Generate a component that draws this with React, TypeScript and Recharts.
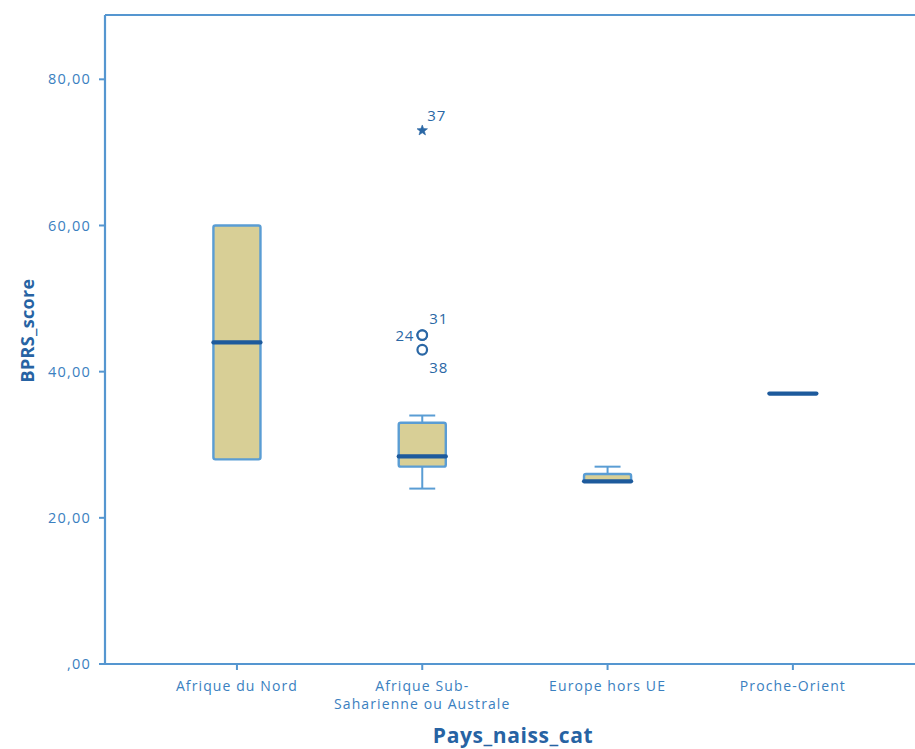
import React from 'react';
import { ComposedChart, XAxis, YAxis, ReferenceArea, ReferenceLine, Scatter, Label } from 'recharts';

// ---- data ----
const categories = ['Afrique du Nord', 'Afrique Sub-Saharienne ou Australe', 'Europe hors UE', 'Proche-Orient'];
const categoryTickLines = [['Afrique du Nord'], ['Afrique Sub-', 'Saharienne ou Australe'], ['Europe hors UE'], ['Proche-Orient']];
const minValues = [28, 24, 25, 37];
const q1Values = [28, 27, 25, 37];
const medianValues = [44, 28.4, 25, 37];
const q3Values = [60, 33, 26, 37];
const maxValues = [60, 34, 27, 37];

const outlierCategory = [1, 1, 1, 1];
const outlierValues = [73, 45, 45, 43];
const outlierCases = ['37', '31', '24', '38'];
const outlierKinds = ['extreme', 'outlier', 'outlier', 'outlier'];

const yTicks = [0, 20, 40, 60, 80];
const xTicks = [0, 1, 2, 3];

// ---- style ----
const Y_MAX = 88.8;
const X_DOMAIN: [number, number] = [-0.712, 3.659];
const BOX_HALF = 0.127;
const CAP_HALF = 0.07;
const FONT = '"Open Sans", "DejaVu Sans", sans-serif';
const AXIS = '#5596d0';
const TICK_TEXT = '#3a80c0';
const TITLE = '#2763a3';
const BOX_FILL = '#d8cf96';
const BOX_STROKE = '#5a9dd4';
const MEDIAN = '#1d5a9c';
const OUTLIER = '#2a67a5';

const caseLabelPlacement: Record<string, { dx: number; dy: number; anchor: string }> = {
  '37': { dx: 5, dy: -15, anchor: 'start' },
  '31': { dx: 7, dy: -17, anchor: 'start' },
  '24': { dx: -8, dy: 0, anchor: 'end' },
  '38': { dx: 7, dy: 17, anchor: 'start' },
};

const outlierData = outlierValues.map((v, i) => ({
  x: outlierCategory[i],
  y: v,
  caseId: outlierCases[i],
  kind: outlierKinds[i],
}));

const starPath = (cx: number, cy: number, r: number) => {
  const pts: string[] = [];
  for (let k = 0; k < 10; k++) {
    const rad = k % 2 === 0 ? r : r * 0.42;
    const a = -Math.PI / 2 + (k * Math.PI) / 5;
    pts.push(`${cx + rad * Math.cos(a)},${cy + rad * Math.sin(a)}`);
  }
  return `M${pts.join('L')}Z`;
};

const OutlierShape = (props: any) => {
  const { cx, cy, payload } = props;
  const place = caseLabelPlacement[payload.caseId] || { dx: 6, dy: -14, anchor: 'start' };
  return (
    <g>
      {payload.kind === 'extreme' ? (
        <path d={starPath(cx, cy, 5.5)} fill={OUTLIER} stroke={OUTLIER} strokeWidth={0.6} />
      ) : (
        <circle cx={cx} cy={cy} r={4.8} fill="#fff" stroke={OUTLIER} strokeWidth={2.2} />
      )}
      <text
        x={cx + place.dx}
        y={cy + place.dy}
        textAnchor={place.anchor as any}
        dominantBaseline="central"
        fontFamily={FONT}
        fontSize={15}
        letterSpacing={0.8}
        fill={OUTLIER}
      >
        {payload.caseId}
      </text>
    </g>
  );
};

const XTick = (props: any) => {
  const { x, y, payload } = props;
  const lines = categoryTickLines[payload.value] || [categories[payload.value]];
  return (
    <g>
      {lines.map((ln, k) => (
        <text
          key={k}
          x={x}
          y={y + 19 + k * 18}
          textAnchor="middle"
          fontFamily={FONT}
          fontSize={14}
          letterSpacing={1.1}
          fill={TICK_TEXT}
        >
          {ln}
        </text>
      ))}
    </g>
  );
};

const fmtY = (v: number) => (v === 0 ? ',00' : `${v},00`);

export default function App() {
  return (
    <div style={{ position: 'absolute', left: 0, top: 0, width: 915, height: 749, background: '#fff' }}>
      <ComposedChart width={915} height={749} margin={{ top: 15, right: 0, bottom: 0, left: 0 }}>
        <XAxis
          type="number"
          dataKey="x"
          domain={X_DOMAIN}
          ticks={xTicks}
          allowDataOverflow
          height={85}
          axisLine={{ stroke: AXIS, strokeWidth: 2.2 }}
          tickLine={{ stroke: AXIS, strokeWidth: 2 }}
          tickSize={6}
          interval={0}
          tick={<XTick />}
        >
          <Label
            content={(p: any) => {
              const vb = p.viewBox || {};
              return (
                <text
                  x={vb.x + vb.width / 2 + 3}
                  y={vb.y + 79}
                  textAnchor="middle"
                  fontFamily={FONT}
                  fontWeight="bold"
                  fontSize={21}
                  letterSpacing={0.6}
                  fill={TITLE}
                >
                  Pays_naiss_cat
                </text>
              );
            }}
          />
        </XAxis>
        <YAxis
          type="number"
          dataKey="y"
          domain={[0, Y_MAX]}
          ticks={yTicks}
          allowDataOverflow
          width={105}
          tickFormatter={fmtY}
          axisLine={{ stroke: AXIS, strokeWidth: 2.2 }}
          tickLine={{ stroke: AXIS, strokeWidth: 2 }}
          tickSize={6}
          tickMargin={8}
          tick={{ fill: TICK_TEXT, fontSize: 14.5, fontFamily: FONT, letterSpacing: 1.2 }}
        >
          <Label
            content={(p: any) => {
              const vb = p.viewBox || {};
              const cx = vb.x + 27;
              const cy = vb.y + vb.height / 2 - 9;
              return (
                <text
                  x={cx}
                  y={cy}
                  transform={`rotate(-90, ${cx}, ${cy})`}
                  textAnchor="middle"
                  dominantBaseline="central"
                  fontFamily={FONT}
                  fontWeight="bold"
                  fontSize={18}
                  letterSpacing={0.3}
                  fill={TITLE}
                >
                  BPRS_score
                </text>
              );
            }}
          />
        </YAxis>

        <ReferenceLine y={Y_MAX} stroke={AXIS} strokeWidth={2.2} ifOverflow="extendDomain" />

        {categories.map((c, i) =>
          maxValues[i] > q3Values[i] ? (
            <ReferenceLine
              key={`uw-${c}`}
              segment={[{ x: i, y: q3Values[i] }, { x: i, y: maxValues[i] }]}
              stroke={BOX_STROKE}
              strokeWidth={2}
            />
          ) : null
        )}
        {categories.map((c, i) =>
          maxValues[i] > q3Values[i] ? (
            <ReferenceLine
              key={`uc-${c}`}
              segment={[{ x: i - CAP_HALF, y: maxValues[i] }, { x: i + CAP_HALF, y: maxValues[i] }]}
              stroke={BOX_STROKE}
              strokeWidth={2}
            />
          ) : null
        )}
        {categories.map((c, i) =>
          minValues[i] < q1Values[i] ? (
            <ReferenceLine
              key={`lw-${c}`}
              segment={[{ x: i, y: minValues[i] }, { x: i, y: q1Values[i] }]}
              stroke={BOX_STROKE}
              strokeWidth={2}
            />
          ) : null
        )}
        {categories.map((c, i) =>
          minValues[i] < q1Values[i] ? (
            <ReferenceLine
              key={`lc-${c}`}
              segment={[{ x: i - CAP_HALF, y: minValues[i] }, { x: i + CAP_HALF, y: minValues[i] }]}
              stroke={BOX_STROKE}
              strokeWidth={2}
            />
          ) : null
        )}
        {categories.map((c, i) => (
          <ReferenceArea
            key={`box-${c}`}
            x1={i - BOX_HALF}
            x2={i + BOX_HALF}
            y1={q1Values[i]}
            y2={q3Values[i]}
            fill={BOX_FILL}
            fillOpacity={1}
            stroke={BOX_STROKE}
            strokeWidth={2.4}
            radius={2}
          />
        ))}
        {categories.map((c, i) => (
          <ReferenceLine
            key={`med-${c}`}
            segment={[{ x: i - BOX_HALF, y: medianValues[i] }, { x: i + BOX_HALF, y: medianValues[i] }]}
            stroke={MEDIAN}
            strokeWidth={4.2}
            strokeLinecap="round"
          />
        ))}

        <Scatter data={outlierData} dataKey="y" isAnimationActive={false} shape={<OutlierShape />} />
      </ComposedChart>
    </div>
  );
}
